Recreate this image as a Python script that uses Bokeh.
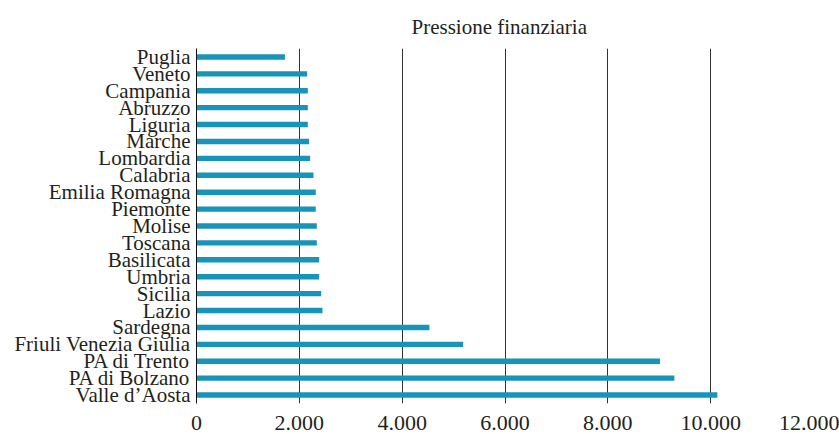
from bokeh.plotting import figure
from bokeh.models import FactorRange, Range1d, FixedTicker
from bokeh.embed import file_html
from bokeh.resources import INLINE

regions = ["Puglia", "Veneto", "Campania", "Abruzzo", "Liguria", "Marche",
           "Lombardia", "Calabria", "Emilia Romagna", "Piemonte", "Molise",
           "Toscana", "Basilicata", "Umbria", "Sicilia", "Lazio", "Sardegna",
           "Friuli Venezia Giulia", "PA di Trento", "PA di Bolzano", "Valle d’Aosta"]
values = [1720, 2150, 2165, 2165, 2165, 2190, 2210, 2275, 2320, 2320, 2340,
          2340, 2385, 2385, 2425, 2450, 4530, 5185, 9015, 9295, 10130]
x_ticks = [0, 2000, 4000, 6000, 8000, 10000, 12000]
x_tick_labels = ["0", "2.000", "4.000", "6.000", "8.000", "10.000", "12.000"]
title_text = "Pressione finanziaria"

FONT = "Liberation Serif"
TXT = "#231f20"
BAR = "#1794ba"

factors = list(reversed(regions))

p = figure(width=839, height=434, output_backend="svg", toolbar_location=None,
           y_range=FactorRange(factors=factors, range_padding=0),
           x_range=Range1d(0, 12000),
           min_border_left=196, min_border_right=26, min_border_top=48,
           min_border_bottom=31)

p.hbar(y=regions, right=values, left=0, height=0.32, color=BAR, line_color=None)

p.title.text = title_text
p.title.align = "left"
p.title.offset = 215
p.title.standoff = 20
p.title.text_font = FONT
p.title.text_font_style = "normal"
p.title.text_font_size = "21px"
p.title.text_color = TXT

p.outline_line_color = None
p.ygrid.grid_line_color = None
p.xgrid.grid_line_color = "#333333"
p.xgrid.grid_line_width = 1
p.xgrid.ticker = FixedTicker(ticks=x_ticks)

xa = p.xaxis[0]
xa.ticker = FixedTicker(ticks=x_ticks)
xa.major_label_overrides = {t: l for t, l in zip(x_ticks, x_tick_labels)}
xa.axis_line_color = None
xa.major_tick_line_color = None
xa.minor_tick_line_color = None
xa.major_tick_out = 0
xa.major_tick_in = 0
xa.major_label_standoff = 12
xa.major_label_text_font = FONT
xa.major_label_text_font_size = "22px"
xa.major_label_text_color = TXT

ya = p.yaxis[0]
ya.axis_line_color = "#111111"
ya.axis_line_width = 1
ya.major_tick_line_color = None
ya.minor_tick_line_color = None
ya.major_tick_out = 0
ya.major_tick_in = 0
ya.major_label_standoff = 6
ya.major_label_text_font = FONT
ya.major_label_text_font_size = "21px"
ya.major_label_text_color = TXT

open("out.html", "w").write(file_html(p, INLINE))
